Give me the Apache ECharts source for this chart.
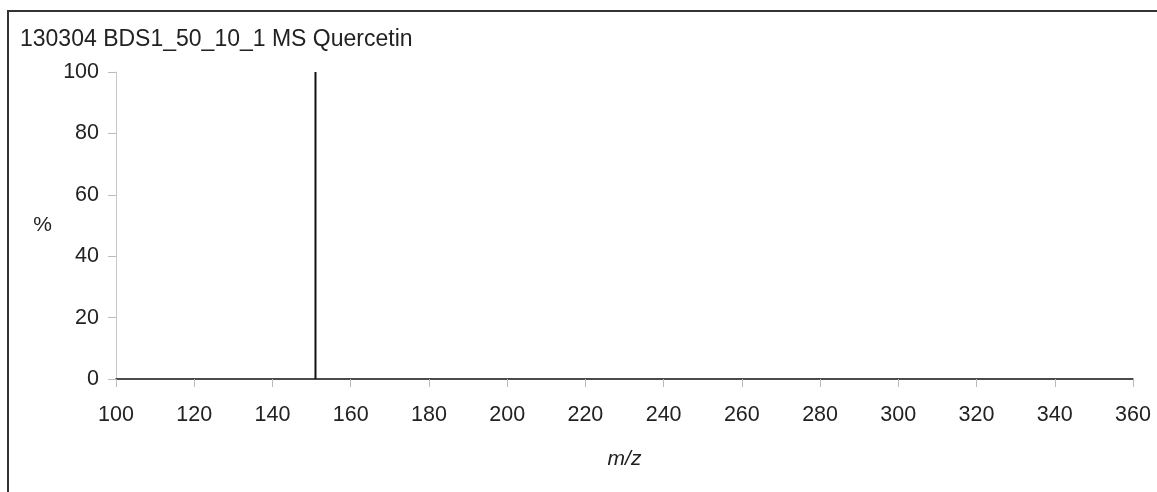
<!DOCTYPE html>
<html>
<head>
<meta charset="utf-8">
<script src="https://cdn.jsdelivr.net/npm/echarts@6/dist/echarts.min.js"></script>
<style>
html,body{margin:0;padding:0;background:#fff;}
#c{width:1157px;height:492px;}
</style>
</head>
<body>
<div id="c"></div>
<script>
const titleText = '130304 BDS1_50_10_1 MS Quercetin';
const mz = [151];
const intensity = [100];
const xTicks = [100, 120, 140, 160, 180, 200, 220, 240, 260, 280, 300, 320, 340, 360];
const yTicks = [0, 20, 40, 60, 80, 100];

const chart = echarts.init(document.getElementById('c'), null, {renderer: 'canvas'});
const font = '"Liberation Sans", Arial, sans-serif';
chart.setOption({
  backgroundColor: '#fff',
  animation: false,
  title: {
    text: titleText,
    left: 15, top: 23,
    textStyle: {fontFamily: font, fontSize: 23, fontWeight: 'normal', color: '#222'}
  },
  graphic: [{
    type: 'rect', silent: true,
    shape: {x: 8, y: 11, width: 1300, height: 700},
    style: {fill: 'none', stroke: '#333', lineWidth: 2}
  }],
  grid: {left: 116, right: 24, top: 72, bottom: 113, containLabel: false},
  xAxis: {
    type: 'value',
    min: xTicks[0], max: xTicks[xTicks.length - 1], interval: 20,
    name: 'm/z', nameLocation: 'middle', nameGap: 70,
    nameTextStyle: {fontFamily: font, fontSize: 21, fontStyle: 'italic', color: '#222'},
    axisLine: {show: true, lineStyle: {color: '#111', width: 1.5}},
    axisTick: {show: true, length: 8, lineStyle: {color: '#bbb'}},
    axisLabel: {margin: 25, fontFamily: font, fontSize: 21.5, color: '#222'},
    splitLine: {show: false}
  },
  yAxis: {
    type: 'value',
    min: yTicks[0], max: yTicks[yTicks.length - 1], interval: 20,
    name: '%', nameLocation: 'middle', nameGap: 64, nameRotate: 0,
    nameTextStyle: {fontFamily: font, fontSize: 21, color: '#222'},
    axisLine: {show: true, lineStyle: {color: '#c8c8c8', width: 1}},
    axisTick: {show: true, length: 8, lineStyle: {color: '#bbb'}},
    axisLabel: {margin: 17, fontFamily: font, fontSize: 21.5, color: '#222'},
    splitLine: {show: false}
  },
  series: [{
    type: 'bar',
    data: mz.map((m, i) => [m, intensity[i]]),
    barWidth: 2,
    itemStyle: {color: '#111'},
    z: 1
  }]
});
</script>
</body>
</html>
